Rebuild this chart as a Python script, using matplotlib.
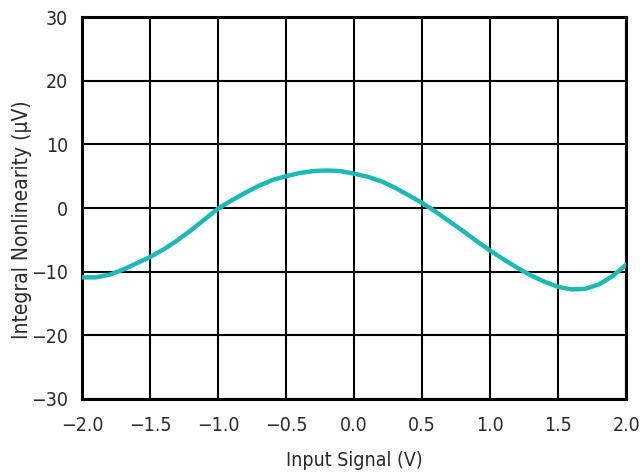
import matplotlib
matplotlib.use("Agg")
import matplotlib.pyplot as plt

plt.rcParams['font.family'] = ['DejaVu Sans']
plt.rcParams['font.stretch'] = 'condensed'

x_vals = [-2.0, -1.9, -1.8, -1.7, -1.6, -1.5, -1.4, -1.3, -1.2, -1.1, -1.0,
          -0.9, -0.8, -0.7, -0.6, -0.5, -0.4, -0.3, -0.2, -0.1, 0.0,
          0.1, 0.2, 0.3, 0.4, 0.5, 0.6, 0.7, 0.8, 0.9, 1.0,
          1.1, 1.2, 1.3, 1.4, 1.5, 1.6, 1.7, 1.8, 1.9, 2.0]
inl_vals = [-10.9, -10.9, -10.5, -9.7, -8.7, -7.7, -6.5, -5.1, -3.5, -1.8, -0.1,
            1.2, 2.4, 3.5, 4.4, 5.0, 5.5, 5.8, 5.9, 5.8, 5.4,
            4.9, 4.2, 3.2, 2.0, 0.8, -0.6, -2.1, -3.6, -5.2, -6.7,
            -8.1, -9.4, -10.6, -11.6, -12.4, -12.8, -12.7, -12.0, -10.7, -8.9]
x_ticks = [-2.0, -1.5, -1.0, -0.5, 0.0, 0.5, 1.0, 1.5, 2.0]
y_ticks = [-30, -20, -10, 0, 10, 20, 30]

fig = plt.figure(figsize=(6.41, 4.76), dpi=100)
ax = fig.add_axes([0.128, 0.162, 0.849, 0.802])
ax.plot(x_vals, inl_vals, color='#1DB9B6', lw=3.2, solid_joinstyle='round', zorder=3)
ax.set_xlim(-2, 2)
ax.set_ylim(-30, 30)
ax.set_xticks(x_ticks)
ax.set_xticklabels([f"{v:.1f}".replace('-', '\u2212') for v in x_ticks])
ax.set_yticks(y_ticks)
ax.set_yticklabels([str(v).replace('-', '\u2212') for v in y_ticks])
ax.grid(True, color='black', lw=1.5)
ax.set_axisbelow(True)
for s in ax.spines.values():
    s.set_linewidth(2.2)
ax.tick_params(axis='y', length=0, labelsize=14, pad=10, colors='#2a2a2a')
ax.tick_params(axis='x', length=0, labelsize=14, pad=12, colors='#2a2a2a')
ax.set_xlabel("Input Signal (V)", fontsize=14, labelpad=12, color='#2a2a2a')
ax.set_ylabel("Integral Nonlinearity (\u00b5V)", fontsize=15, color='#2a2a2a')
ax.yaxis.set_label_coords(-0.092, 0.47)
fig.savefig("out.png", dpi=100)
